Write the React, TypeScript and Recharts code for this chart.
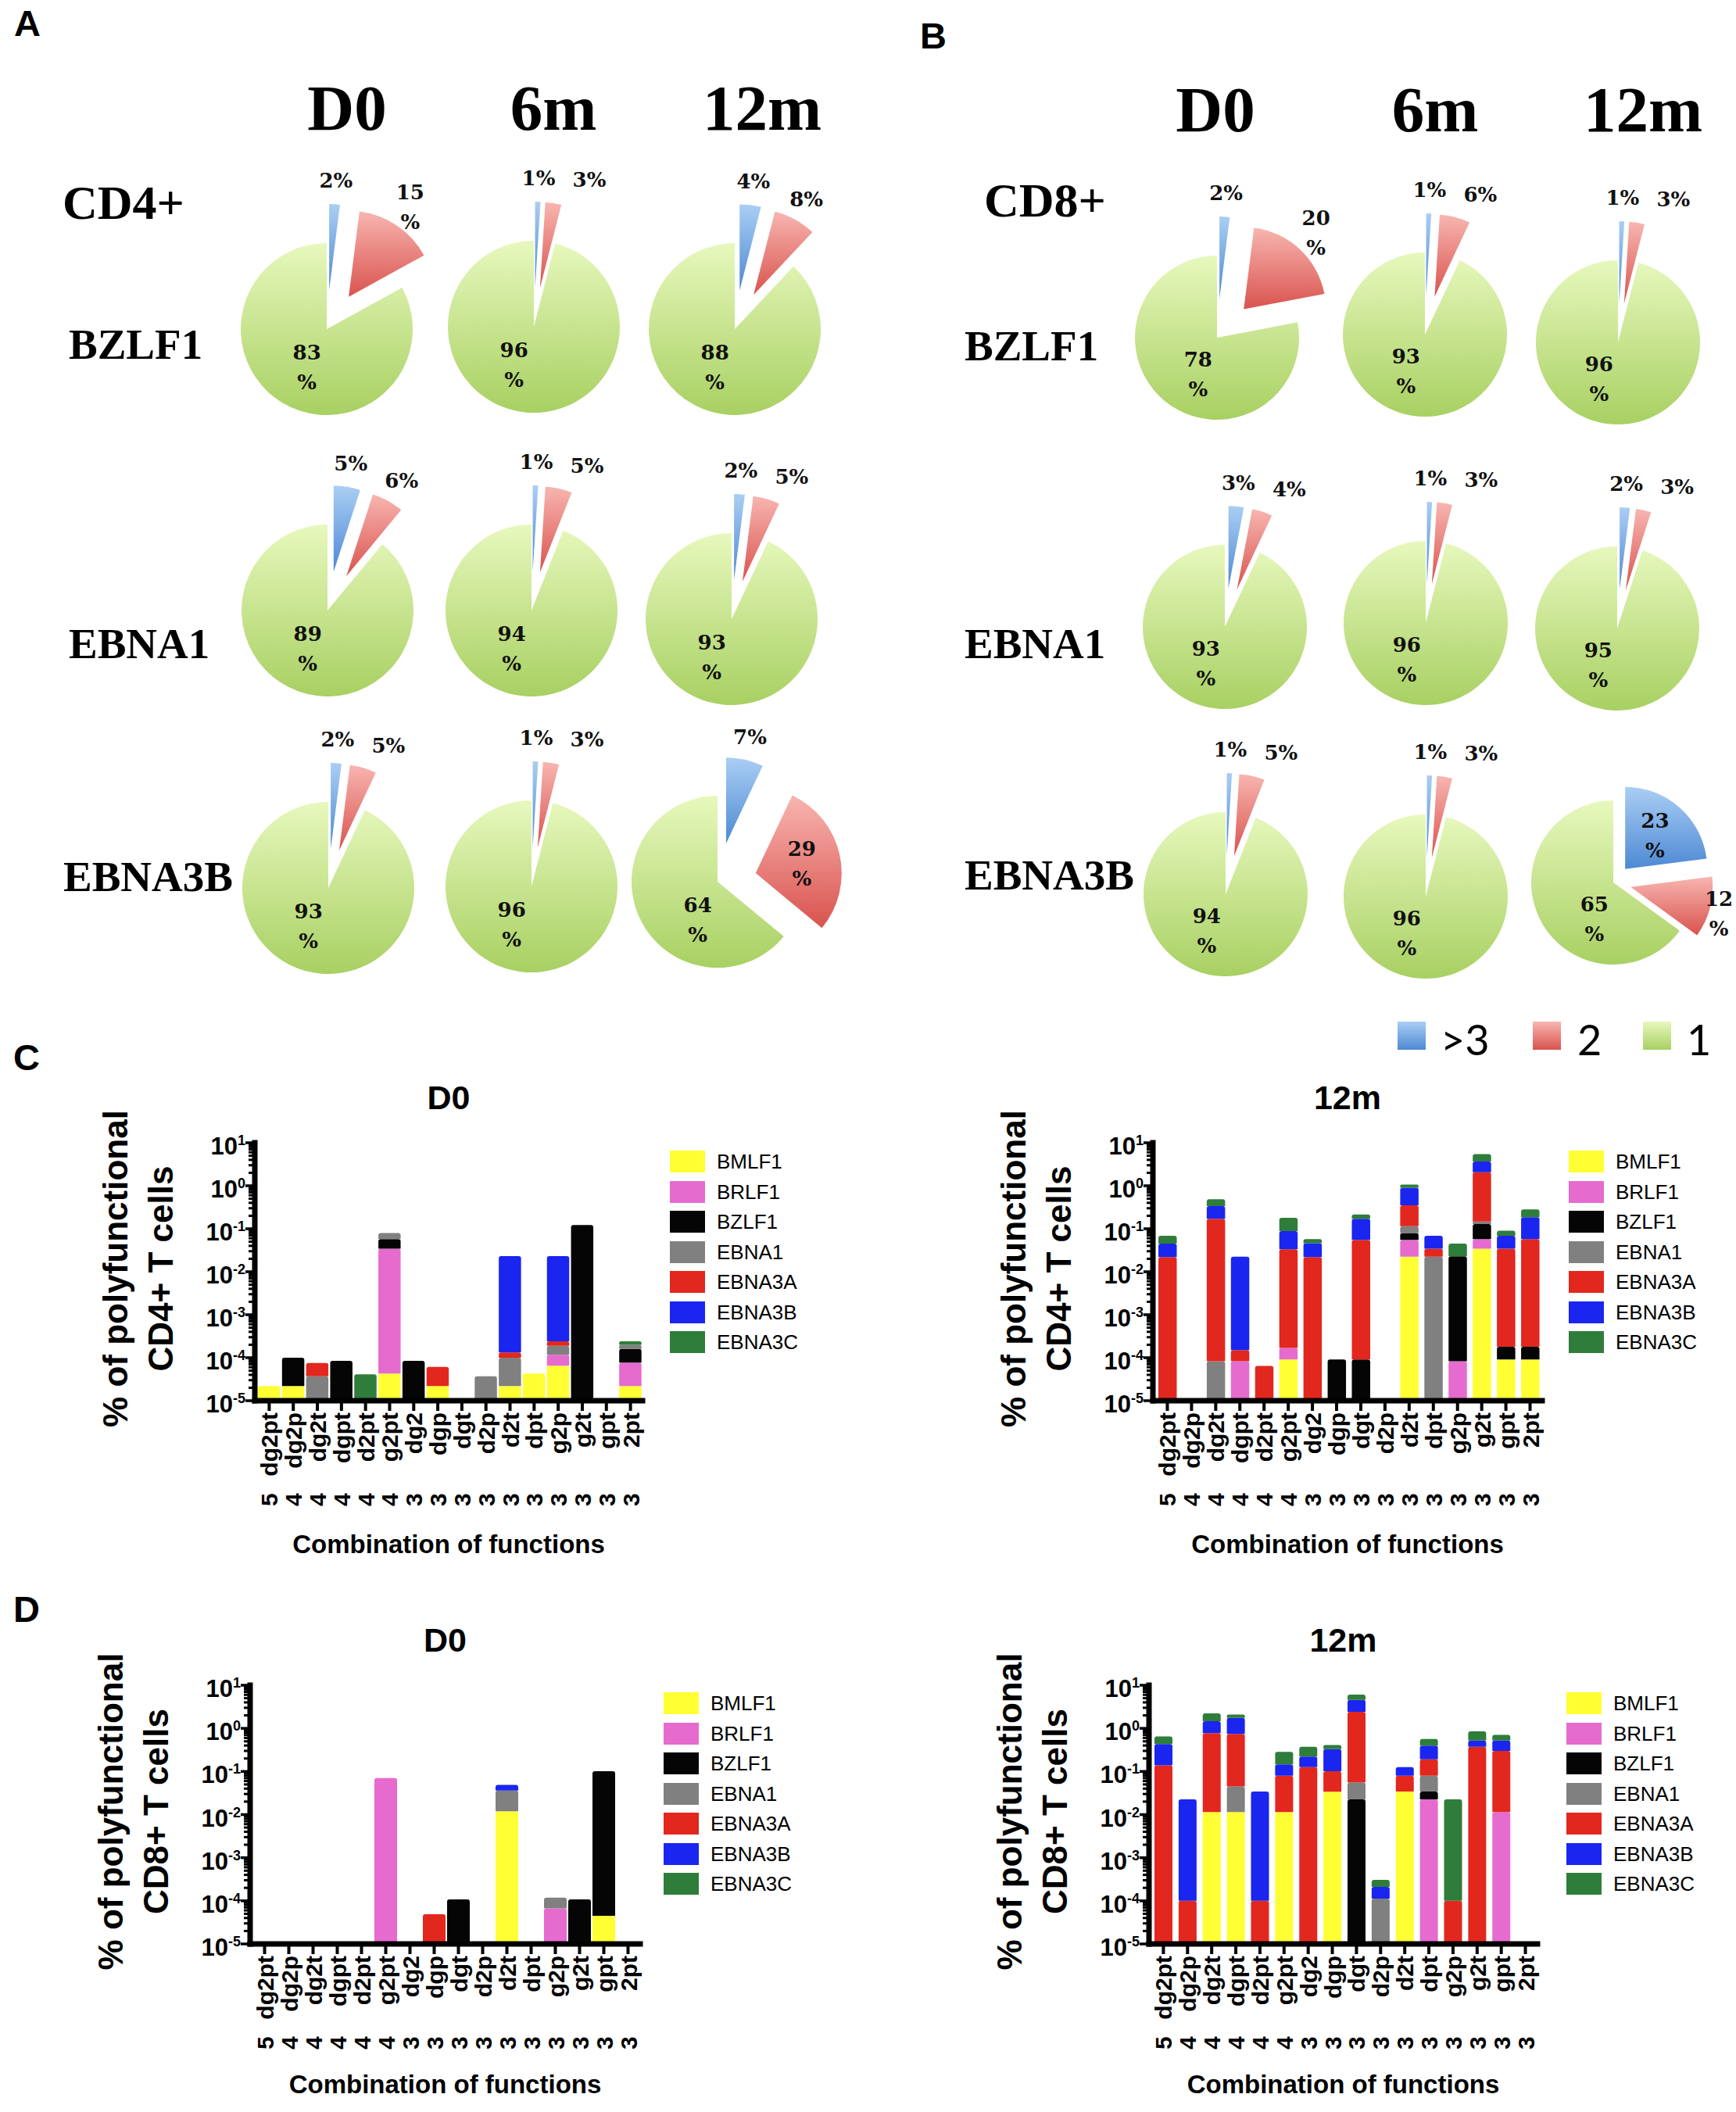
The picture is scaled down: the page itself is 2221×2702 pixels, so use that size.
import React from 'react';
import { PieChart, Pie, Cell, BarChart, Bar, XAxis, YAxis, Legend } from 'recharts';

const SANS = "'Liberation Sans', Arial, Helvetica, sans-serif";
const SERIF = "'Liberation Serif', 'Times New Roman', serif";
const LABEL_SERIF = "'DejaVu Serif', 'Liberation Serif', serif";
const PIE_LEGEND_FONT = "Lato, 'Open Sans', 'Liberation Sans', sans-serif";

// ---------------- Pie data (percent of cells with >3, 2, 1 functions) ----------------
const TIMEPOINTS = ['D0', '6m', '12m'];
const PIE_ROWS = ['BZLF1', 'EBNA1', 'EBNA3B'];
const SLICE_NAMES = ['>3', '2', '1'];

const CD4_BZLF1 = [[2, 15, 83], [1, 3, 96], [4, 8, 88]];
const CD4_EBNA1 = [[5, 6, 89], [1, 5, 94], [2, 5, 93]];
const CD4_EBNA3B = [[2, 5, 93], [1, 3, 96], [7, 29, 64]];

const CD8_BZLF1 = [[2, 20, 78], [1, 6, 93], [1, 3, 96]];
const CD8_EBNA1 = [[3, 4, 93], [1, 3, 96], [2, 3, 95]];
const CD8_EBNA3B = [[1, 5, 94], [1, 3, 96], [23, 12, 65]];

// ---------------- Bar data ----------------
const COMBINATIONS = [
  '5 dg2pt', '4 dg2p', '4 dg2t', '4 dgpt', '4 d2pt', '4 g2pt', '3 dg2', '3 dgp',
  '3 dgt', '3 d2p', '3 d2t', '3 dpt', '3 g2p', '3 g2t', '3 gpt', '3 2pt',
];
const ANTIGENS = ['BMLF1', 'BRLF1', 'BZLF1', 'EBNA1', 'EBNA3A', 'EBNA3B', 'EBNA3C'];
const ANTIGEN_COLORS = ['#FFFF33', '#E56BCF', '#050505', '#808080', '#E2271E', '#1A25F0', '#2F7D3A'];

// each row = one antigen (ANTIGENS order), each column = one combination
const CD4_D0 = [
  [2.2e-5, 2.2e-5, 0, 0, 0, 4.3e-5, 0, 2.2e-5, 0, 0, 2.2e-5, 4.3e-5, 6.5e-5, 0, 0, 2.2e-5],
  [0, 0, 0, 0, 0, 0.0345, 0, 0, 0, 0, 0, 0, 5.2e-5, 0, 0, 5.5e-5],
  [0, 7.8e-5, 0, 8.5e-5, 0, 0.023, 8.5e-5, 0, 0, 0, 0, 0, 0, 0.122, 0, 8.3e-5],
  [0, 0, 3.7e-5, 0, 0, 0.0215, 0, 0, 0, 3.7e-5, 7.8e-5, 0, 7.3e-5, 0, 0, 4e-5],
  [0, 0, 3.8e-5, 0, 0, 0, 0, 3.9e-5, 0, 0, 3.3e-5, 0, 5e-5, 0, 0, 0],
  [0, 0, 0, 0, 0, 0, 0, 0, 0, 0, 0.023, 0, 0.0228, 0, 0, 0],
  [0, 0, 0, 0, 4.1e-5, 0, 0, 0, 0, 0, 0, 0, 0, 0, 0, 4e-5],
];
const CD4_12M = [
  [0, 0, 0, 0, 0, 9.1e-5, 0, 0, 0, 0, 0.0224, 0, 0, 0.0345, 9.1e-5, 9.1e-5],
  [0, 0, 0, 8.3e-5, 0, 7.7e-5, 0, 0, 0, 0, 0.0328, 0, 8.3e-5, 0.023, 0, 0],
  [0, 0, 0, 0, 0, 0, 0, 9.1e-5, 9.1e-5, 0, 0.0242, 0, 0.0228, 0.0715, 8.9e-5, 8.9e-5],
  [0, 0, 8.3e-5, 0, 0, 0, 0, 0, 0, 0, 0.0346, 0.0224, 0, 0.018, 0, 0],
  [0.0219, 0, 0.17, 6.7e-5, 6.45e-5, 0.0331, 0.0219, 0, 0.0551, 0, 0.236, 0.0121, 0, 1.91, 0.0343, 0.0573],
  [0.0234, 0, 0.167, 0.0222, 0, 0.0552, 0.0241, 0, 0.115, 0, 0.55, 0.034, 0, 1.62, 0.0341, 0.128],
  [0.0233, 0, 0.148, 0, 0, 0.0905, 0.0113, 0, 0.045, 0, 0.17, 0, 0.0224, 1.8, 0.0214, 0.096],
];
const CD8_D0 = [
  [0, 0, 0, 0, 0, 0, 0, 0, 0, 0, 0.0119, 0, 0, 0, 4.5e-5, 0],
  [0, 0, 0, 0, 0, 0.0706, 0, 0, 0, 0, 0, 0, 6.7e-5, 0, 0, 0],
  [0, 0, 0, 0, 0, 0, 0, 0, 1.08e-4, 0, 0, 0, 0, 1.08e-4, 0.101, 0],
  [0, 0, 0, 0, 0, 0, 0, 0, 0, 0, 0.0241, 0, 5.1e-5, 0, 0, 0],
  [0, 0, 0, 0, 0, 0, 0, 4.9e-5, 0, 0, 0, 0, 0, 0, 0, 0],
  [0, 0, 0, 0, 0, 0, 0, 0, 0, 0, 0.013, 0, 0, 0, 0, 0],
  [0, 0, 0, 0, 0, 0, 0, 0, 0, 0, 0, 0, 0, 0, 0, 0],
];
const CD8_12M = [
  [0, 0, 0.0115, 0.0115, 0, 0.0115, 0, 0.034, 0, 0, 0.0341, 0, 0, 0, 0, 0],
  [0, 0, 0, 0, 0, 0, 0, 0, 0, 0, 0, 0.0225, 0, 0, 0.0115, 0],
  [0, 0, 0, 0, 0, 0, 0, 0, 0.0225, 0, 0, 0.0116, 0, 0, 0, 0],
  [0, 0, 0, 0.0333, 0, 0, 0, 0, 0.0332, 1.12e-4, 0, 0.046, 0, 0, 0, 0],
  [0.138, 1.0e-4, 0.765, 0.703, 1.0e-4, 0.0686, 0.126, 0.067, 2.37, 0, 0.046, 0.111, 1.0e-4, 0.375, 0.29, 0],
  [0.296, 0.0224, 0.69, 1.01, 0.034, 0.066, 0.095, 0.229, 2.16, 9.9e-5, 0.046, 0.205, 0, 0.145, 0.218, 0],
  [0.213, 0, 0.75, 0.34, 0, 0.14, 0.154, 0.08, 1.45, 9.4e-5, 0, 0.173, 0.0224, 0.33, 0.188, 0],
];

const MAJOR_TICKS = [1e-5, 1e-4, 1e-3, 1e-2, 1e-1, 1, 10];
const MINOR_STEPS = [2, 3, 4, 5, 6, 7, 8, 9];
const LOG_TICKS: number[] = [];
MAJOR_TICKS.forEach((t, i) => {
  LOG_TICKS.push(t);
  if (i < MAJOR_TICKS.length - 1) MINOR_STEPS.forEach((m) => LOG_TICKS.push(m * t));
});

// ---------------- Layout (positions / sizes only) ----------------
const PIE_CENTERS_A = [
  [[418, 421], [683, 418], [940, 421]],
  [[419, 781], [680, 781], [936, 792]],
  [[420, 1136], [680, 1134], [918, 1128]],
];
const PIE_EXPLODE_A = [[50, 50, 50], [50, 50, 50], [50, 50, 50]];
const PIE_CENTERS_B = [
  [[1557, 432], [1823, 428], [2070, 438]],
  [[1567, 802], [1824, 797], [2069, 804]],
  [[1568, 1144], [1824, 1147], [2064, 1129]],
];
const PIE_EXPLODE_B = [[50, 50, 50], [50, 50, 50], [50, 50, 23]];

const BAR_SPECS = [
  { id: 'c0', values: CD4_D0, title: 'D0', cell: 'CD4+', left: 0, top: 1340, width: 1110, height: 680, axisX: 326, plotRight: 822, plotTop: 1462, plotBottom: 1792, barSize: 28.5, legendLeft: 857, legendTop: 1467, xTitleGap: 195 },
  { id: 'c1', values: CD4_12M, title: '12m', cell: 'CD4+', left: 1120, top: 1340, width: 1101, height: 680, axisX: 1475, plotRight: 1973, plotTop: 1462, plotBottom: 1792, barSize: 23.5, legendLeft: 2007, legendTop: 1467, xTitleGap: 195 },
  { id: 'd0', values: CD8_D0, title: 'D0', cell: 'CD8+', left: 0, top: 2034, width: 1110, height: 668, axisX: 320, plotRight: 819, plotTop: 2156, plotBottom: 2487, barSize: 29, legendLeft: 849, legendTop: 2160, xTitleGap: 191 },
  { id: 'd1', values: CD8_12M, title: '12m', cell: 'CD8+', left: 1120, top: 2034, width: 1101, height: 668, axisX: 1470, plotRight: 1967, plotTop: 2156, plotBottom: 2487, barSize: 23, legendLeft: 2004, legendTop: 2160, xTitleGap: 191 },
];

// ---------------- Pie helpers ----------------
function sliceDir(vals: number[], i: number) {
  const total = vals.reduce((a, b) => a + b, 0);
  const before = vals.slice(0, i).reduce((a, b) => a + b, 0);
  const m = ((before + vals[i] / 2) / total) * 2 * Math.PI; // clockwise from 12 o'clock
  return { x: Math.sin(m), y: -Math.cos(m) };
}

function pieLabelLayout(vals: number[], i: number, cx: number, cy: number, r: number, E: number, maxX: number) {
  const lines = vals[i] >= 10 ? [String(vals[i]), '%'] : [`${vals[i]}%`];
  if (i === 2) return { x: cx - 0.23 * r, y0: cy + 0.35 * r, lines };
  const d = sliceDir(vals, i);
  let px: number;
  let py: number;
  if (vals[i] > 20) {
    const D = E + 0.55 * r;
    px = cx + d.x * D;
    py = cy + d.y * D;
  } else {
    const D = r + E + 30;
    px = cx + d.x * D;
    py = cy + d.y * D;
    if (i === 1 && vals[0] <= 20) {
      const db = sliceDir(vals, 0);
      px = Math.max(px, cx + db.x * D + 65);
    }
  }
  px = Math.min(px, maxX);
  const y0 = lines.length === 2 ? py - 9 : py + 9;
  return { x: px, y0, lines };
}

function PieLabel({ vals, i, cx, cy, r, E, maxX }: any) {
  const L = pieLabelLayout(vals, i, cx, cy, r, E, maxX);
  return (
    <text textAnchor="middle" fontFamily={LABEL_SERIF} fontWeight={700} fontSize={26} fill="#111">
      {L.lines.map((t: string, k: number) => (
        <tspan key={k} x={L.x} y={L.y0 + k * 38}>{t}</tspan>
      ))}
    </text>
  );
}

function GradientDefs({ prefix }: { prefix: string }) {
  return (
    <defs>
      <linearGradient id={`${prefix}-blue`} x1="0" y1="0" x2="0" y2="1">
        <stop offset="0" stopColor="#aacef4" />
        <stop offset="1" stopColor="#4d89d3" />
      </linearGradient>
      <linearGradient id={`${prefix}-red`} x1="0" y1="0" x2="0" y2="1">
        <stop offset="0" stopColor="#f8b5b0" />
        <stop offset="1" stopColor="#d9534e" />
      </linearGradient>
      <linearGradient id={`${prefix}-green`} x1="0" y1="0" x2="0" y2="1">
        <stop offset="0" stopColor="#e7f8bd" />
        <stop offset="1" stopColor="#a8d062" />
      </linearGradient>
    </defs>
  );
}

function PiePanel({ prefix, ox, width, height, rows, centers, explode, radius }: any) {
  const fills = [`url(#${prefix}-blue)`, `url(#${prefix}-red)`, `url(#${prefix}-green)`];
  const maxX = 2221 - ox - 22;
  const pies: any[] = [];
  rows.forEach((rowVals: number[][], ri: number) =>
    rowVals.forEach((vals: number[], ci: number) => {
      const [cxAbs, cy] = centers[ri][ci];
      const cx = cxAbs - ox;
      const E = explode[ri][ci];
      const data = vals.map((value, k) => ({ name: SLICE_NAMES[k], value }));
      [2, 1, 0].forEach((i) => {
        const d = sliceDir(vals, i);
        const e = i === 2 ? 0 : E;
        pies.push(
          <Pie
            key={`${prefix}-${ri}-${ci}-${i}`}
            data={data}
            dataKey="value"
            nameKey="name"
            cx={cx + d.x * e}
            cy={cy + d.y * e}
            innerRadius={0}
            outerRadius={radius}
            startAngle={90}
            endAngle={-270}
            stroke="none"
            isAnimationActive={false}
            labelLine={false}
            label={(p: any) =>
              p.index === i ? <PieLabel vals={vals} i={i} cx={cx} cy={cy} r={radius} E={E} maxX={maxX} /> : null
            }
          >
            {vals.map((_, k) => (
              <Cell key={k} fill={k === i ? fills[i] : 'none'} stroke="none" />
            ))}
          </Pie>
        );
      });
    })
  );
  return (
    <div style={{ position: 'absolute', left: ox, top: 0 }}>
      <PieChart width={width} height={height} margin={{ top: 0, right: 0, bottom: 0, left: 0 }}>
        <GradientDefs prefix={prefix} />
        {pies}
      </PieChart>
    </div>
  );
}

// ---------------- Bar helpers ----------------
function LogTick(props: any) {
  const { x, y, payload } = props;
  const v = Number(payload.value);
  const lg = Math.log10(v);
  const e = Math.round(lg);
  const major = Math.abs(lg - e) < 1e-6;
  const len = major ? 12 : 8;
  return (
    <g>
      <line x1={x - len} x2={x} y1={y} y2={y} stroke="#000" strokeWidth={major ? 3.5 : 3} />
      {major && (
        <text x={x - 12} y={y + 15} textAnchor="end" fontFamily={SANS} fontWeight={700} fontSize={31} fill="#000">
          10
          <tspan dy={-12} fontSize={18}>{e}</tspan>
        </text>
      )}
    </g>
  );
}

function ComboTick(props: any) {
  const { x, y, payload } = props;
  const [num, word] = String(payload.value).split(' ');
  return (
    <g transform={`translate(${x},${y})`}>
      <line x1={0} y1={0} x2={0} y2={13} stroke="#000" strokeWidth={4} />
      <g transform="rotate(-90)" fontFamily={SANS} fontWeight={700} fontSize={30} fill="#000">
        <text x={-15} y={11} textAnchor="end">{word}</text>
        <text x={-135} y={11} textAnchor="start">{num}</text>
      </g>
    </g>
  );
}

function BarLegend({ payload }: any) {
  return (
    <div style={{ width: 240, whiteSpace: 'nowrap' }}>
      {(payload || []).map((p: any) => (
        <div key={String(p.value)} style={{ display: 'flex', alignItems: 'center', height: 38.5 }}>
          <div style={{ width: 45, height: 28, background: p.color, flex: 'none' }} />
          <span style={{ marginLeft: 15, fontFamily: SANS, fontSize: 26, lineHeight: '28px', color: '#000' }}>
            {p.value}
          </span>
        </div>
      ))}
    </div>
  );
}

function BarPanel({ spec }: any) {
  const data = COMBINATIONS.map((c, j) => {
    const row: any = { combo: c };
    ANTIGENS.forEach((a, k) => {
      row[a] = spec.values[k][j];
    });
    return row;
  });
  const mt = spec.plotTop - spec.top;
  const yAxisWidth = spec.axisX - spec.left;
  const xAxisHeight = spec.top + spec.height - spec.plotBottom;
  const mr = spec.left + spec.width - spec.plotRight;
  return (
    <div style={{ position: 'absolute', left: spec.left, top: spec.top }}>
      <BarChart
        width={spec.width}
        height={spec.height}
        data={data}
        margin={{ top: mt, right: mr, bottom: 0, left: 0 }}
        barCategoryGap={0}
      >
        <XAxis
          dataKey="combo"
          type="category"
          height={xAxisHeight}
          interval={0}
          tick={<ComboTick />}
          tickLine={false}
          tickSize={0}
          tickMargin={0}
          axisLine={{ stroke: '#000', strokeWidth: 7, strokeLinecap: 'square' }}
          padding={{ left: 3, right: 0 }}
        />
        <YAxis
          type="number"
          scale="log"
          domain={[1e-5, 10]}
          allowDataOverflow
          ticks={LOG_TICKS}
          interval={0}
          width={yAxisWidth}
          tick={<LogTick />}
          tickLine={false}
          tickSize={0}
          tickMargin={0}
          axisLine={{ stroke: '#000', strokeWidth: 7, strokeLinecap: 'square' }}
        />
        <Legend
          layout="vertical"
          align="right"
          verticalAlign="top"
          wrapperStyle={{
            position: 'absolute',
            left: spec.legendLeft - spec.left,
            top: spec.legendTop - spec.top,
            right: 'auto',
            bottom: 'auto',
            width: 0,
            height: 0,
            overflow: 'visible',
          }}
          content={(p: any) => <BarLegend payload={p.payload} />}
        />
        {ANTIGENS.map((a, k) => (
          <Bar
            key={a}
            dataKey={a}
            name={a}
            stackId="s"
            fill={ANTIGEN_COLORS[k]}
            barSize={spec.barSize}
            radius={[3, 3, 0, 0]}
            isAnimationActive={false}
          />
        ))}
      </BarChart>
    </div>
  );
}

// ---------------- Static text overlay ----------------
function Overlay() {
  const rowYA = [459, 842, 1140];
  const rowYB = [461, 842, 1138];
  const rowXA = [88, 88, 81];
  const headXA = [444, 708, 975];
  const headXB = [1555, 1836, 2102];
  const legendItems = [
    { sq: 1788, tx: 1843, id: 'blue' },
    { sq: 1961, tx: 2018, id: 'red' },
    { sq: 2102, tx: 2158, id: 'green' },
  ];
  return (
    <svg width={2221} height={2702} style={{ position: 'absolute', left: 0, top: 0, pointerEvents: 'none' }}>
      <GradientDefs prefix="lg" />
      <g fontFamily={SANS} fontWeight={700} fontSize={47} fill="#000">
        <text x={18} y={46}>A</text>
        <text x={1177} y={62}>B</text>
        <text x={17} y={1369}>C</text>
        <text x={17} y={2075}>D</text>
      </g>
      <g fontFamily={SERIF} fontWeight={700} fill="#000">
        {TIMEPOINTS.map((t, i) => (
          <text key={`ha${t}`} x={headXA[i]} y={166} fontSize={83} textAnchor="middle">{t}</text>
        ))}
        {TIMEPOINTS.map((t, i) => (
          <text key={`hb${t}`} x={headXB[i]} y={168} fontSize={83} textAnchor="middle">{t}</text>
        ))}
        <text x={80} y={280} fontSize={62}>CD4+</text>
        <text x={1259} y={277} fontSize={62}>CD8+</text>
        {PIE_ROWS.map((r, i) => (
          <text key={`ra${r}`} x={rowXA[i]} y={rowYA[i]} fontSize={55}>{r}</text>
        ))}
        {PIE_ROWS.map((r, i) => (
          <text key={`rb${r}`} x={1234} y={rowYB[i]} fontSize={55}>{r}</text>
        ))}
      </g>
      {legendItems.map((it, i) => (
        <g key={it.id}>
          <rect x={it.sq} y={1307} width={36} height={36} fill={`url(#lg-${it.id})`} />
          <text x={it.tx} y={1350} fontFamily={PIE_LEGEND_FONT} fontSize={54} fill="#000">{SLICE_NAMES[i]}</text>
        </g>
      ))}
      {BAR_SPECS.map((s) => {
        const midX = (s.axisX + s.plotRight) / 2;
        const midY = (s.plotTop + s.plotBottom) / 2 - 4;
        return (
          <g key={`t${s.id}`} fontFamily={SANS} fontWeight={700} fill="#000">
            <text x={midX} y={s.plotTop - 43} fontSize={43} textAnchor="middle">{s.title}</text>
            <text x={midX} y={s.plotBottom + s.xTitleGap} fontSize={33} textAnchor="middle">Combination of functions</text>
            <text transform={`translate(${s.axisX - 163.5},${midY}) rotate(-90)`} fontSize={44} textAnchor="middle">% of polyfunctional</text>
            <text transform={`translate(${s.axisX - 105},${midY}) rotate(-90)`} fontSize={44} textAnchor="middle">{`${s.cell} T cells`}</text>
          </g>
        );
      })}
    </svg>
  );
}

export default function App() {
  return (
    <div style={{ position: 'absolute', left: 0, top: 0, width: 2221, height: 2702, background: '#fff', overflow: 'hidden' }}>
      <style>{'body{margin:0;}'}</style>
      <PiePanel prefix="pa" ox={0} width={1110} height={1300} rows={[CD4_BZLF1, CD4_EBNA1, CD4_EBNA3B]} centers={PIE_CENTERS_A} explode={PIE_EXPLODE_A} radius={110} />
      <PiePanel prefix="pb" ox={1110} width={1111} height={1300} rows={[CD8_BZLF1, CD8_EBNA1, CD8_EBNA3B]} centers={PIE_CENTERS_B} explode={PIE_EXPLODE_B} radius={105} />
      {BAR_SPECS.map((s) => (
        <BarPanel key={s.id} spec={s} />
      ))}
      <Overlay />
    </div>
  );
}
